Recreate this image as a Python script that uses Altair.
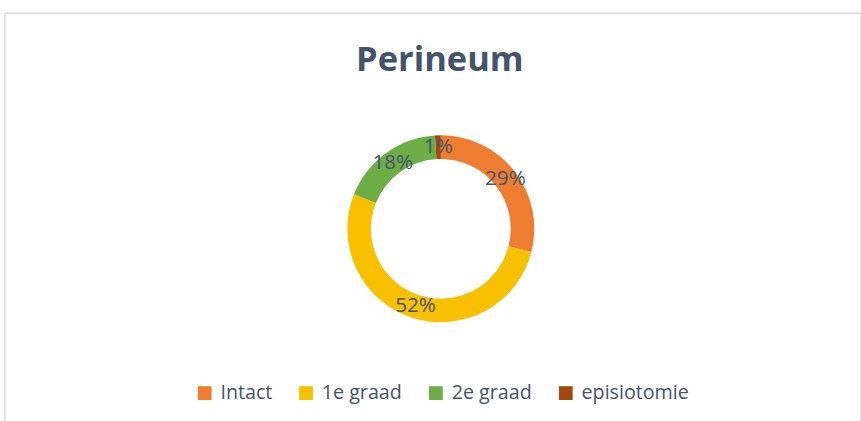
import altair as alt
import pandas as pd

categories = ["Intact", "1e graad", "2e graad", "episiotomie"]
values = [29, 52, 18, 1]
labels = ["29%", "52%", "18%", "1%"]
colors = ["#EE7D31", "#F9C000", "#6DAD46", "#A0480E"]

df = pd.DataFrame({
    "cat": categories,
    "value": values,
    "label": labels,
    "idx": list(range(len(categories))),
})

FONT = "Open Sans"
TXT = "#44546A"

base = alt.Chart(df).encode(
    theta=alt.Theta("value:Q", stack=True),
    order=alt.Order("idx:Q"),
)

arcs = base.mark_arc(innerRadius=71, outerRadius=95).encode(
    x=alt.value(443),
    y=alt.value(219),
    color=alt.Color(
        "cat:N",
        scale=alt.Scale(domain=categories, range=colors),
        sort=categories,
        legend=alt.Legend(
            title=None,
            orient="none",
            direction="horizontal",
            legendX=193,
            legendY=376,
            symbolType="square",
            symbolSize=196,
            symbolStrokeWidth=0,
            labelFontSize=20,
            labelFont=FONT,
            labelColor=TXT,
            columnPadding=24,
            labelOffset=6,
        ),
    ),
)

text = base.mark_text(radius=83, fontSize=21, font=FONT, color=TXT).encode(
    x=alt.value(443),
    y=alt.value(219),
    text="label:N",
)

chart = (
    alt.layer(arcs, text)
    .properties(
        width=870,
        height=420,
        autosize=alt.AutoSizeParams(type="none"),
        padding={"left": 5, "top": 10, "right": 0, "bottom": 0},
        background="white",
        title=alt.TitleParams(
            "Perineum",
            fontSize=35,
            font=FONT,
            fontWeight="bold",
            color=TXT,
            anchor="middle",
            dx=7,
            dy=70,
        ),
    )
    .configure_view(stroke="#D9D9D9", strokeWidth=1.5)
)

chart.save("out.html", embed_options={"renderer": "svg", "actions": False})
